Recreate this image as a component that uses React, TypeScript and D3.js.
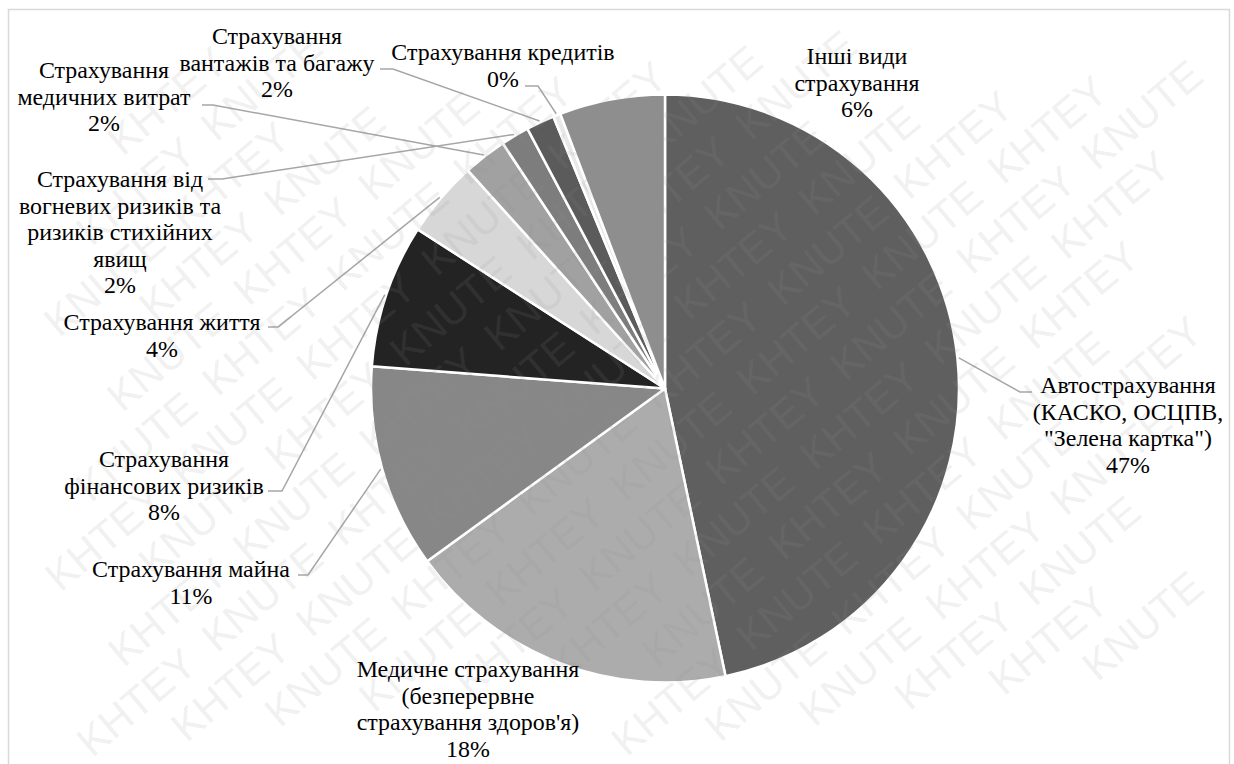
import React, { useLayoutEffect, useRef, useState } from 'react';
import * as d3 from 'd3';

// Structure of insurance premiums by type (share, %)
const categories = [
  'Автострахування (КАСКО, ОСЦПВ, "Зелена картка")',
  "Медичне страхування (безперервне страхування здоров'я)",
  'Страхування майна',
  'Страхування фінансових ризиків',
  'Страхування життя',
  'Страхування медичних витрат',
  'Страхування від вогневих ризиків та ризиків стихійних явищ',
  'Страхування вантажів та багажу',
  'Страхування кредитів',
  'Інші види страхування',
];

const shares = [46.7, 18.3, 11.2, 7.9, 4.2, 2.4, 1.55, 1.55, 0.4, 5.8];

// Label text broken into lines the way it is typeset on the chart
const labelLines = [
  ['Автострахування', '(КАСКО, ОСЦПВ,', '"Зелена картка")'],
  ['Медичне страхування', '(безперервне', "страхування здоров'я)"],
  ['Страхування майна'],
  ['Страхування', 'фінансових ризиків'],
  ['Страхування життя'],
  ['Страхування', 'медичних витрат'],
  ['Страхування від', 'вогневих ризиків та', 'ризиків стихійних', 'явищ'],
  ['Страхування', 'вантажів та багажу'],
  ['Страхування кредитів'],
  ['Інші види', 'страхування'],
];

const watermarkWords = ['KNUTE', 'KHTEY'];

// ---- styling / layout ----
const W = 1234;
const H = 764;
const CX = 665;
const CY = 388.5;
const R = 294;
const BASE_FONT = 23;
const LINE_H = 26.5;
// width the sample line "Страхування майна" should occupy
const SAMPLE_TEXT = 'Страхування майна';
const SAMPLE_WIDTH = 198;
const SERIF = '"Liberation Serif", "Times New Roman", Tinos, serif';
const SANS = '"Liberation Sans", Arial, sans-serif';

const sliceColors = [
  '#5f5f5f', '#acacac', '#878787', '#232323', '#d7d7d7',
  '#a1a1a1', '#7d7d7d', '#5b5b5b', '#e8e8e8', '#8e8e8e',
];

// label block placement: centre x, first baseline, optional leader elbow and tail end
type Place = { x: number; y: number; elbow?: [number, number]; tail?: [number, number] };
const placements: Place[] = [
  { x: 1128, y: 393, elbow: [1020, 392], tail: [1032, 392] },
  { x: 468, y: 677 },
  { x: 191, y: 577, elbow: [308, 575], tail: [298, 575] },
  { x: 164, y: 467, elbow: [282, 491], tail: [268, 491] },
  { x: 162, y: 330, elbow: [278, 327], tail: [268, 327] },
  { x: 104, y: 78, elbow: [213, 105], tail: [202, 105] },
  { x: 120, y: 187, elbow: [222, 179], tail: [208, 179] },
  { x: 277, y: 44, elbow: [393, 69], tail: [380, 69] },
  { x: 503, y: 60, elbow: [538, 86], tail: [525, 86] },
  { x: 857, y: 64 },
];

// watermark grid (rotated frame)
const WM_ANGLE = -40;
const WM_SIZE = 42;
const WM_ROW = 49;
const WM_STEP = 164;
const WM_HALF_W = 72;

export default function App() {
  const sampleRef = useRef<SVGTextElement>(null);
  const [fontSize, setFontSize] = useState(BASE_FONT);

  useLayoutEffect(() => {
    const el = sampleRef.current;
    if (!el) return;
    const w = el.getComputedTextLength();
    if (w > 0) setFontSize(Math.min(26, Math.max(18, (BASE_FONT * SAMPLE_WIDTH) / w)));
  }, []);

  const total = d3.sum(shares);
  const pie = d3
    .pie<number>()
    .sort(null)
    .value((d) => d)
    .startAngle(0)
    .endAngle(2 * Math.PI);
  const arcs = pie(shares);
  const arc = d3.arc<d3.PieArcDatum<number>>().innerRadius(0).outerRadius(R);

  const pct = (v: number) => `${Math.round((v / total) * 100)}%`;

  const edgePoint = (a: d3.PieArcDatum<number>): [number, number] => {
    const m = (a.startAngle + a.endAngle) / 2;
    const rr = R + 1.5;
    return [CX + rr * Math.sin(m), CY - rr * Math.cos(m)];
  };

  // watermark words on a rotated grid; only whole words inside the frame are kept
  const rad = (WM_ANGLE * Math.PI) / 180;
  const cos = Math.cos(rad);
  const sin = Math.sin(rad);
  const marks: { x: number; y: number; w: string; key: string }[] = [];
  for (let r = -22; r <= 22; r++) {
    for (let c = -12; c <= 12; c++) {
      const u = c * WM_STEP + (r % 2 === 0 ? 0 : WM_STEP / 2);
      const v = r * WM_ROW;
      const x = W / 2 + u * cos - v * sin;
      const y = H / 2 + u * sin + v * cos;
      const ext = [
        [-WM_HALF_W, -31], [WM_HALF_W, -31], [-WM_HALF_W, 2], [WM_HALF_W, 2],
      ].map(([a, b]) => [x + a * cos - b * sin, y + a * sin + b * cos]);
      const inside = ext.every(([px, py]) => px > 11 && px < W - 7 && py > 12 && py < H - 1);
      if (inside) {
        marks.push({ x, y, w: watermarkWords[((c + r) % 2 + 2) % 2], key: `${r}_${c}` });
      }
    }
  }

  return (
    <svg
      width={W}
      height={H}
      style={{ position: 'absolute', left: 0, top: 0, background: '#ffffff' }}
    >
      <rect x={0} y={0} width={W} height={H} fill="#ffffff" />
      <rect x={8.5} y={9.5} width={1221} height={800} fill="none" stroke="#d9d9d9" strokeWidth={1.5} />

      <text
        ref={sampleRef}
        x={-1000}
        y={-1000}
        fontSize={BASE_FONT}
        style={{ fontFamily: SERIF }}
        visibility="hidden"
      >
        {SAMPLE_TEXT}
      </text>

      <g transform={`translate(${CX},${CY})`}>
        {arcs.map((a, i) => (
          <path key={i} d={arc(a) || ''} fill={sliceColors[i]} stroke="#ffffff" strokeWidth={2.5} strokeLinejoin="round" />
        ))}
      </g>

      {arcs.map((a, i) => {
        const p = placements[i];
        if (!p.elbow || !p.tail) return null;
        const e = edgePoint(a);
        const pts = [e, p.elbow, p.tail];
        return (
          <path
            key={i}
            d={d3.line()(pts as [number, number][]) || ''}
            fill="none"
            stroke="#a6a6a6"
            strokeWidth={1.5}
          />
        );
      })}

      <g style={{ fontFamily: SANS }} fontSize={WM_SIZE} fill="#8f8f8f" fillOpacity={0.15} textAnchor="middle">
        {marks.map((m) => (
          <text key={m.key} x={0} y={0} transform={`translate(${m.x},${m.y}) rotate(${WM_ANGLE})`}>
            {m.w}
          </text>
        ))}
      </g>

      <g fontSize={fontSize} fill="#000000" textAnchor="middle" style={{ fontFamily: SERIF }}>
        {arcs.map((a, i) => {
          const p = placements[i];
          const lines = [...labelLines[i], pct(a.data)];
          return (
            <text key={i} x={p.x} y={p.y}>
              {lines.map((ln, j) => (
                <tspan key={j} x={p.x} y={p.y + j * LINE_H}>
                  {ln}
                </tspan>
              ))}
            </text>
          );
        })}
      </g>
    </svg>
  );
}
